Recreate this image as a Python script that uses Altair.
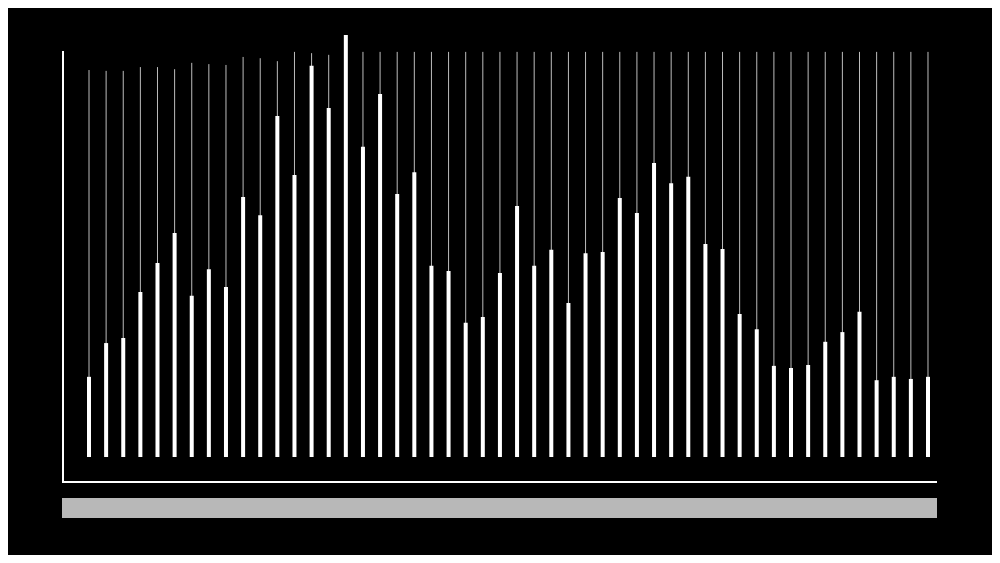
import altair as alt
import pandas as pd

# bar values (thick white bars)
values = [19.0, 27.0, 28.2, 39.1, 46.0, 53.1, 38.2, 44.5, 40.3, 61.6,
          57.3, 80.8, 66.8, 92.7, 82.7, 100.0, 73.5, 86.0, 62.3, 67.5,
          45.3, 44.1, 31.8, 33.2, 43.6, 59.5, 45.3, 49.1, 36.5, 48.3,
          48.6, 61.4, 57.8, 69.7, 64.9, 66.4, 50.5, 49.3, 33.9, 30.3,
          21.6, 21.1, 21.8, 27.3, 29.6, 34.4, 18.2, 19.0, 18.5, 19.0]

# peak values (thin lines)
peaks = [91.7, 91.5, 91.5, 92.4, 92.4, 91.9, 93.4, 93.1, 92.9, 94.8,
         94.5, 93.8, 96.0, 95.7, 95.3, 100.0] + [96.0] * 34

idx = list(range(len(values)))
base = [0] * len(values)

df = pd.DataFrame({"i": idx, "value": values, "peak": peaks, "base": base})

W, H = 875, 431
xs = alt.Scale(domain=[-1.577, 49.526], nice=False, zero=False)
ys = alt.Scale(domain=[-5.92, 96.21], nice=False, zero=False)

thin = alt.Chart(df).mark_rule(color="#bdbdbd", strokeWidth=1).encode(
    x=alt.X("i:Q", scale=xs, axis=None),
    y=alt.Y("peak:Q", scale=ys, axis=None),
    y2="base:Q",
)

bars = alt.Chart(df).mark_rule(color="white", strokeWidth=4, strokeCap="butt").encode(
    x=alt.X("i:Q", scale=xs, axis=None),
    y=alt.Y("value:Q", scale=ys, axis=None),
    y2="base:Q",
)

one = pd.DataFrame({"k": [0]})

left_axis = alt.Chart(one).mark_rule(color="white", strokeWidth=2).encode(
    x=alt.value(1), y=alt.value(0), y2=alt.value(H)
)
bottom_axis = alt.Chart(one).mark_rule(color="white", strokeWidth=2).encode(
    x=alt.value(0), x2=alt.value(W), y=alt.value(H)
)
gray_bar = alt.Chart(one).mark_rect(color="#b8b8b8").encode(
    x=alt.value(0), x2=alt.value(W), y=alt.value(447), y2=alt.value(467)
)

chart = alt.layer(thin, bars, left_axis, bottom_axis, gray_bar).properties(
    width=W,
    height=H,
    autosize=alt.AutoSizeParams(type="none"),
    padding={"left": 54, "top": 43, "right": 55, "bottom": 73},
    background="black",
).configure_view(stroke=None)

chart.save("out.html", embed_options={"renderer": "svg", "actions": False})
